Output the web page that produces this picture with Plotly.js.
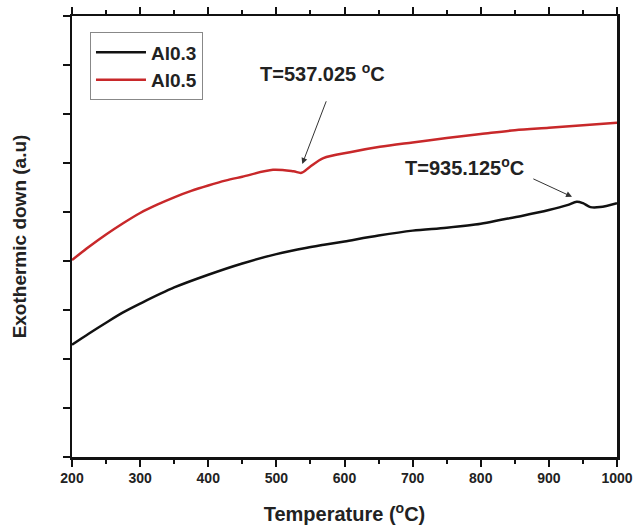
<!DOCTYPE html>
<html><head><meta charset="utf-8">
<script src="https://cdn.plot.ly/plotly-3.0.1.min.js"></script>
<style>html,body{margin:0;padding:0;background:#fff}#chart{width:634px;height:531px}</style>
</head><body><div id="chart"></div>
<script>
const tempAl03 = [200,225,250,275,300,350,400,450,500,545,570,600,650,700,750,800,830,860,900,927,941,950,961,975,1000];
const valAl03  = [2.29,2.52,2.74,2.95,3.13,3.46,3.72,3.95,4.14,4.27,4.33,4.40,4.52,4.62,4.68,4.76,4.84,4.92,5.04,5.14,5.21,5.18,5.10,5.10,5.18];
const tempAl05 = [200,225,250,275,300,325,350,375,400,425,450,495,525,537,549,569,608,652,700,750,800,850,900,950,1000];
const valAl05  = [4.02,4.29,4.54,4.77,4.98,5.15,5.30,5.43,5.54,5.64,5.72,5.86,5.83,5.80,5.92,6.10,6.22,6.33,6.42,6.51,6.59,6.67,6.72,6.77,6.82];
const seriesNames = ['Al0.3','Al0.5'];
const xTicks = [200,300,400,500,600,700,800,900,1000];

const font = {family:'Liberation Sans, Arial, sans-serif', color:'#222'};
const traces = [
  {x:tempAl03, y:valAl03, name:seriesNames[0], mode:'lines', line:{color:'#111', width:2.5, shape:'spline', smoothing:0.9}},
  {x:tempAl05, y:valAl05, name:seriesNames[1], mode:'lines', line:{color:'#c8282a', width:2.5, shape:'spline', smoothing:0.9}}
];
const layout = {
  width:634, height:531,
  margin:{l:72, r:17, t:16, b:74},
  paper_bgcolor:'#fff', plot_bgcolor:'#fff',
  showlegend:true,
  legend:{x:0.033, y:0.963, xanchor:'left', yanchor:'top', bgcolor:'#fff', bordercolor:'#888', borderwidth:1,
          font:Object.assign({}, font, {size:19, weight:'bold'}), tracegroupgap:0, itemwidth:50},
  xaxis:{range:[200,1000], tickvals:xTicks, ticks:'outside', ticklen:7, tickwidth:2, tickcolor:'#111',
         showline:true, linecolor:'#111', linewidth:2.5, mirror:'ticks', showgrid:false, zeroline:false,
         minor:{dtick:50, tick0:200, ticks:'outside', ticklen:4, tickwidth:2, tickcolor:'#111', showgrid:false},
         tickfont:Object.assign({}, font, {size:14, weight:'bold'}),
         title:{text:'Temperature (<sup>o</sup>C)', font:Object.assign({}, font, {size:20, weight:'bold'}), standoff:22}},
  yaxis:{range:[0,9], dtick:1, ticks:'outside', ticklen:7, tickwidth:2, tickcolor:'#111', showticklabels:false,
         showline:true, linecolor:'#111', linewidth:2.5, mirror:true, showgrid:false, zeroline:false,
         title:{text:'Exothermic down (a.u)', font:Object.assign({}, font, {size:19, weight:'bold'}), standoff:31}},
  annotations:[
    {x:473, y:7.84, xref:'x', yref:'y', text:'T=537.025 <sup>o</sup>C', showarrow:false, xanchor:'left',
     font:Object.assign({}, font, {size:20, weight:'bold'})},
    {x:538, y:5.98, xref:'x', yref:'y', ax:574, ay:7.29, axref:'x', ayref:'y', text:'', showarrow:true,
     arrowhead:2, arrowsize:1.2, arrowwidth:1, arrowcolor:'#333'},
    {x:686, y:5.92, xref:'x', yref:'y', text:'T=935.125<sup>o</sup>C', showarrow:false, xanchor:'left',
     font:Object.assign({}, font, {size:20, weight:'bold'})},
    {x:934, y:5.31, xref:'x', yref:'y', ax:875, ay:5.69, axref:'x', ayref:'y', text:'', showarrow:true,
     arrowhead:2, arrowsize:1.2, arrowwidth:1, arrowcolor:'#333'}
  ]
};
Plotly.newPlot('chart', traces, layout, {displayModeBar:false, staticPlot:true});
</script></body></html>
